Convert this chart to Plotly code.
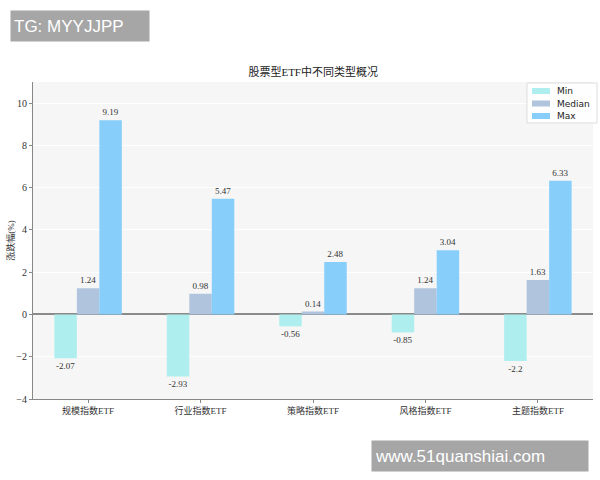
import plotly.graph_objects as go

categories = ["规模指数ETF", "行业指数ETF", "策略指数ETF", "风格指数ETF", "主题指数ETF"]
min_vals = [-2.07, -2.93, -0.56, -0.85, -2.2]
median_vals = [1.24, 0.98, 0.14, 1.24, 1.63]
max_vals = [9.19, 5.47, 2.48, 3.04, 6.33]
y_ticks = [-4, -2, 0, 2, 4, 6, 8, 10]

series = [
    ("Min", min_vals, "#afeeee"),
    ("Median", median_vals, "#b0c4de"),
    ("Max", max_vals, "#87cefa"),
]

serif = "Liberation Serif, DejaVu Serif, Noto Sans CJK SC, serif"
cjk = "Liberation Serif, Noto Sans CJK SC, serif"

L, R, T, B = 33, 7, 82, 81
PW, PH = 600 - L - R, 480 - T - B

fig = go.Figure()
for name, vals, color in series:
    fig.add_trace(go.Bar(
        name=name, x=categories, y=vals,
        marker=dict(color=color, line=dict(width=0)),
        text=[f"{v:g}" for v in vals],
        textposition="outside",
        textfont=dict(family=serif, size=9, color="#333333"),
        cliponaxis=False,
        showlegend=False,
    ))

fig.update_layout(
    width=600, height=480,
    margin=dict(l=L, r=R, t=T, b=B, autoexpand=False),
    paper_bgcolor="white",
    plot_bgcolor="#f6f6f6",
    barmode="group",
    bargap=0.4,
    bargroupgap=0,
    showlegend=False,
    title=dict(text="股票型ETF中不同类型概况", x=0.522, xanchor="center", y=1 - 72 / 480, yanchor="middle",
               font=dict(family=cjk, size=11, color="#222222")),
)

fig.update_xaxes(
    automargin=False,
    range=[-0.49, 4.49],
    showline=True, linecolor="#888888", linewidth=1,
    ticks="outside", ticklen=3, tickcolor="#888888",
    showgrid=False,
    tickfont=dict(family=cjk, size=9, color="#333333"),
)
fig.update_yaxes(
    automargin=False,
    range=[-4, 11],
    tickvals=y_ticks,
    showline=True, linecolor="#888888", linewidth=1,
    ticks="outside", ticklen=3, tickcolor="#888888",
    showgrid=True, gridcolor="#ffffff", gridwidth=1,
    zeroline=True, zerolinecolor="#8a8a8a", zerolinewidth=1.5,
    tickfont=dict(family=serif, size=10, color="#333333"),
    title=dict(text="涨跌幅(%)", font=dict(family=cjk, size=9, color="#333333"), standoff=0),
)

def px_x(px):
    return (px - L) / PW

def px_y(py):
    return 1 - (py - T) / PH

# manual compact legend
fig.add_shape(type="rect", xref="paper", yref="paper",
              x0=px_x(527), x1=px_x(597), y0=px_y(123), y1=px_y(83),
              fillcolor="rgba(255,255,255,0.85)", line=dict(color="#dddddd", width=1))
for i, (name, _, color) in enumerate(series):
    cy = 91 + i * 12.5
    fig.add_shape(type="rect", xref="paper", yref="paper",
                  x0=px_x(532), x1=px_x(550), y0=px_y(cy + 3), y1=px_y(cy - 3),
                  fillcolor=color, line=dict(width=0))
    fig.add_annotation(xref="paper", yref="paper", x=px_x(555), y=px_y(cy),
                       xanchor="left", yanchor="middle", text=name, showarrow=False,
                       font=dict(family="DejaVu Sans, sans-serif", size=9, color="#222222"))

# watermarks
fig.add_annotation(
    xref="paper", yref="paper", x=px_x(10), y=px_y(10), xanchor="left", yanchor="top",
    text="TG: MYYJJPP", showarrow=False, bgcolor="#a6a6a6",
    font=dict(family="Liberation Sans, Arial, sans-serif", size=17, color="white"),
    width=132, height=24, align="left", borderpad=3,
)
fig.add_annotation(
    xref="paper", yref="paper", x=px_x(589), y=px_y(440), xanchor="right", yanchor="top",
    text="www.51quanshiai.com", showarrow=False, bgcolor="#a6a6a6",
    font=dict(family="Liberation Sans, Arial, sans-serif", size=17, color="white"),
    width=210, height=24, align="left", borderpad=3,
)

fig.write_html("out.html", config={"displayModeBar": False},
               post_script="document.body.style.margin='0';")
